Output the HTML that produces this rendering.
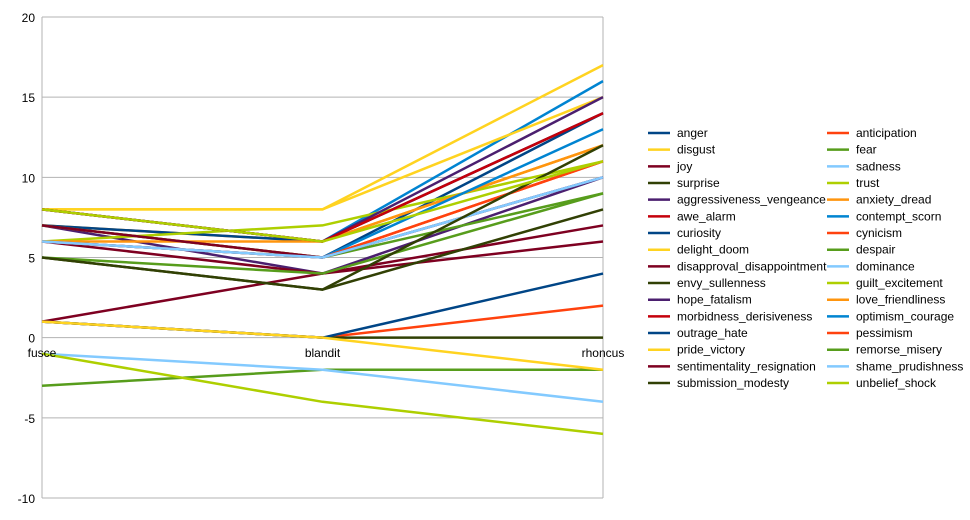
<!DOCTYPE html>
<html><head><meta charset="utf-8"><style>
body{margin:0;background:#fff;font-family:"Liberation Sans",sans-serif;}
svg text{font-family:"Liberation Sans",sans-serif;font-size:12px;fill:#000;}
</style></head><body>
<svg id="c" width="970" height="515"></svg>
<script>
const categories=["fusce","blandit","rhoncus"];
const seriesNames=["anger","anticipation","disgust","fear","joy","sadness","surprise","trust","aggressiveness_vengeance","anxiety_dread","awe_alarm","contempt_scorn","curiosity","cynicism","delight_doom","despair","disapproval_disappointment","dominance","envy_sullenness","guilt_excitement","hope_fatalism","love_friendliness","morbidness_derisiveness","optimism_courage","outrage_hate","pessimism","pride_victory","remorse_misery","sentimentality_resignation","shame_prudishness","submission_modesty","unbelief_shock"];
const seriesValues=[[6,5,14],[1,0,2],[8,8,17],[-3,-2,-2],[1,4,6],[-1,-2,-4],[1,0,0],[-1,-4,-6],[7,4,10],[7,6,12],[8,6,14],[8,6,16],[7,6,14],[7,5,11],[8,8,15],[7,5,9],[6,4,7],[6,5,10],[5,3,8],[6,7,11],[8,6,15],[6,6,12],[8,6,14],[6,5,13],[1,0,4],[6,5,11],[1,0,-2],[5,4,9],[7,5,10],[6,5,10],[5,3,12],[8,6,11]];
const yTicks=[-10,-5,0,5,10,15,20];
const palette=["#004586","#ff420e","#ffd320","#579d1c","#7e0021","#83caff","#314004","#aecf00","#4b1f6f","#ff950e","#c5000b","#0084d1"];
const NS="http://www.w3.org/2000/svg";
const svg=document.getElementById('c');
const X0=42,X1=603,Y20=17,Ym10=498;
const yS=v=>Y20+(20-v)*(Ym10-Y20)/30;
const xS=i=>X0+i*(X1-X0)/(categories.length-1);
function mk(t,a){const e=document.createElementNS(NS,t);for(const k in a)e.setAttribute(k,a[k]);svg.appendChild(e);return e;}
yTicks.forEach(v=>{
 const l=mk('line',{x1:X0,x2:X1,y1:yS(v),y2:yS(v),stroke:'#b3b3b3','stroke-width':1});
 
 
 const t=mk('text',{x:35,y:yS(v)+5,'text-anchor':'end'});t.textContent=v;
 
 
});
const ax=mk('line',{x1:X0,x2:X0,y1:Y20,y2:Ym10,stroke:'#b3b3b3'});


const rb=mk('line',{x1:X1,x2:X1,y1:Y20,y2:Ym10,stroke:'#b3b3b3'});


seriesValues.forEach((vals,s)=>{
 const p=mk('polyline',{points:vals.map((v,i)=>xS(i)+','+yS(v)).join(' '),fill:'none',stroke:palette[s%12],'stroke-width':2.5});
 
 
});
categories.forEach((c,i)=>{
 const t=mk('text',{x:xS(i),y:357,'text-anchor':'middle'});t.textContent=c;
 
 
});
seriesNames.forEach((n,s)=>{
 const col=s%2,row=Math.floor(s/2);
 const x=col?827:648,y=133+row*16.67;
 const l=mk('line',{x1:x,x2:x+22,y1:y,y2:y,stroke:palette[s%12],'stroke-width':2.5});
 
 
 const t=mk('text',{x:x+29,y:y+4});t.textContent=n;
 
 
});
</script>
</body></html>
